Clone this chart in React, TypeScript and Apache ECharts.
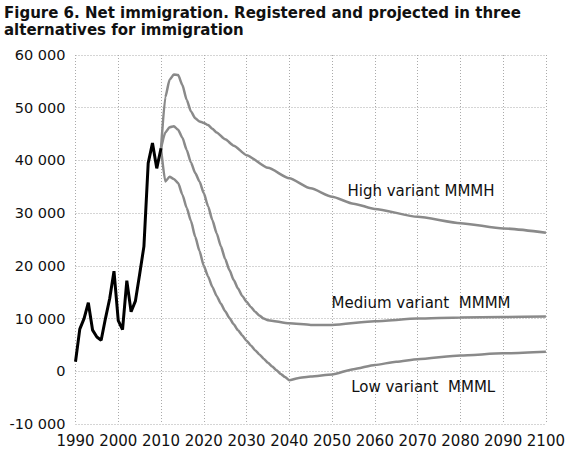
import React, { useEffect, useRef } from "react";
import * as echarts from "echarts";

const registeredYears = [1990, 1991, 1992, 1993, 1994, 1995, 1996, 1997, 1998, 1999, 2000, 2001, 2002, 2003, 2004, 2005, 2006, 2007, 2008, 2009, 2010];
const registeredValues = [1800, 8000, 10000, 13000, 7800, 6500, 5900, 10000, 13800, 19000, 9600, 7900, 17200, 11300, 13300, 18400, 23700, 39500, 43300, 38500, 42300];

const highYears = [2010, 2011, 2012, 2013, 2014, 2015, 2016, 2017, 2018, 2019, 2020, 2021, 2022, 2023, 2025, 2027, 2030, 2035, 2040, 2045, 2050, 2055, 2060, 2070, 2080, 2090, 2100];
const highValues = [42300, 52000, 55300, 56300, 56200, 54300, 51500, 49300, 48000, 47400, 47100, 46700, 46000, 45300, 44000, 42800, 41000, 38600, 36600, 34700, 33100, 31800, 30800, 29300, 28100, 27100, 26300];

const mediumYears = [2010, 2011, 2012, 2013, 2014, 2015, 2016, 2017, 2018, 2019, 2020, 2021, 2022, 2023, 2024, 2025, 2026, 2027, 2028, 2029, 2030, 2031, 2032, 2033, 2034, 2035, 2040, 2045, 2050, 2060, 2070, 2080, 2090, 2100];
const mediumValues = [42300, 45300, 46300, 46500, 45800, 44300, 42000, 39600, 37600, 36000, 33800, 31300, 28700, 26200, 23700, 21300, 19200, 17300, 15700, 14300, 13200, 12200, 11300, 10600, 10000, 9700, 9100, 8800, 8800, 9500, 10000, 10200, 10300, 10400];

const lowYears = [2010, 2011, 2012, 2013, 2014, 2015, 2016, 2017, 2018, 2019, 2020, 2021, 2022, 2023, 2024, 2025, 2026, 2027, 2028, 2029, 2030, 2031, 2032, 2033, 2034, 2035, 2036, 2037, 2038, 2039, 2040, 2042, 2045, 2050, 2055, 2060, 2065, 2070, 2080, 2090, 2100];
const lowValues = [42300, 36000, 36900, 36500, 35700, 33500, 31000, 28500, 25500, 22800, 20000, 18000, 16000, 14300, 12800, 11400, 10100, 8900, 7800, 6800, 5800, 4900, 4000, 3200, 2400, 1600, 900, 200, -500, -1100, -1700, -1300, -1000, -600, 400, 1200, 1800, 2300, 3000, 3400, 3700];

const labelTexts = ["High variant MMMH", "Medium variant  MMMM", "Low variant  MMML"];
const labelCoords = [[2070.8, 34200], [2070.8, 12900], [2071.3, -3000]];

const titleLines = ["Figure 6. Net immigration. Registered and projected in three", "alternatives for immigration"];

const pair = (xs: number[], ys: number[]) => xs.map((x, i) => [x, ys[i]]);

const fmt = (v: number) => {
  const s = Math.abs(v).toString().replace(/\B(?=(\d{3})+(?!\d))/g, " ");
  return (v < 0 ? "-" : "") + s;
};

const FONT = "'DejaVu Sans', Verdana, sans-serif";
const GRAY = "#8a8a8a";

export default function App() {
  const ref = useRef<HTMLDivElement>(null);
  useEffect(() => {
    if (!ref.current) return;
    const chart = echarts.init(ref.current, undefined, { renderer: "svg" });
    const mark = (i: number) => ({
      silent: true,
      symbol: "circle",
      symbolSize: 0,
      data: [
        {
          coord: labelCoords[i],
          label: {
            show: true,
            position: "inside",
            formatter: labelTexts[i],
            color: "#111",
            fontSize: 15,
            fontFamily: FONT,
          },
        },
      ],
    });
    const lineBase = {
      type: "line",
      showSymbol: false,
      smooth: 0.2,
      smoothMonotone: "x",
      lineStyle: { color: GRAY, width: 2.5 },
      itemStyle: { color: GRAY },
    };
    const titleStyle = { fontSize: 15, fontWeight: "bold", color: "#111", fontFamily: FONT, lineHeight: 16 };
    chart.setOption({
      animation: false,
      backgroundColor: "#fff",
      title: [
        { text: titleLines[0], left: 4, top: 5, padding: 0, textStyle: titleStyle },
        { text: titleLines[1], left: 4, top: 22, padding: 0, textStyle: titleStyle },
      ],
      grid: { left: 75.5, right: 17.3, top: 55, bottom: 27 },
      xAxis: {
        type: "value",
        min: 1990,
        max: 2100,
        interval: 10,
        axisLine: { show: false },
        axisTick: { show: false },
        axisLabel: { color: "#111", fontSize: 15, fontFamily: FONT, margin: 9, formatter: (v: number) => String(v) },
        splitLine: { show: true, lineStyle: { color: "#aaa", type: [1, 2], width: 1 } },
      },
      yAxis: {
        type: "value",
        min: -10000,
        max: 60000,
        interval: 10000,
        axisLine: { show: false },
        axisTick: { show: false },
        axisLabel: { color: "#111", fontSize: 14.5, fontFamily: FONT, margin: 10, padding: [6, 0, 0, 0], formatter: fmt },
        splitLine: { show: true, lineStyle: { color: "#aaa", type: [1, 2], width: 1 } },
      },
      series: [
        { ...lineBase, data: pair(highYears, highValues), markPoint: mark(0) },
        { ...lineBase, data: pair(mediumYears, mediumValues), markPoint: mark(1) },
        { ...lineBase, data: pair(lowYears, lowValues), markPoint: mark(2) },
        {
          type: "line",
          data: pair(registeredYears, registeredValues),
          showSymbol: false,
          lineStyle: { color: "#000", width: 3 },
          itemStyle: { color: "#000" },
          z: 5,
        },
      ],
    });
    return () => chart.dispose();
  }, []);
  return <div ref={ref} style={{ position: "absolute", left: 0, top: 0, width: 568, height: 451 }} />;
}
